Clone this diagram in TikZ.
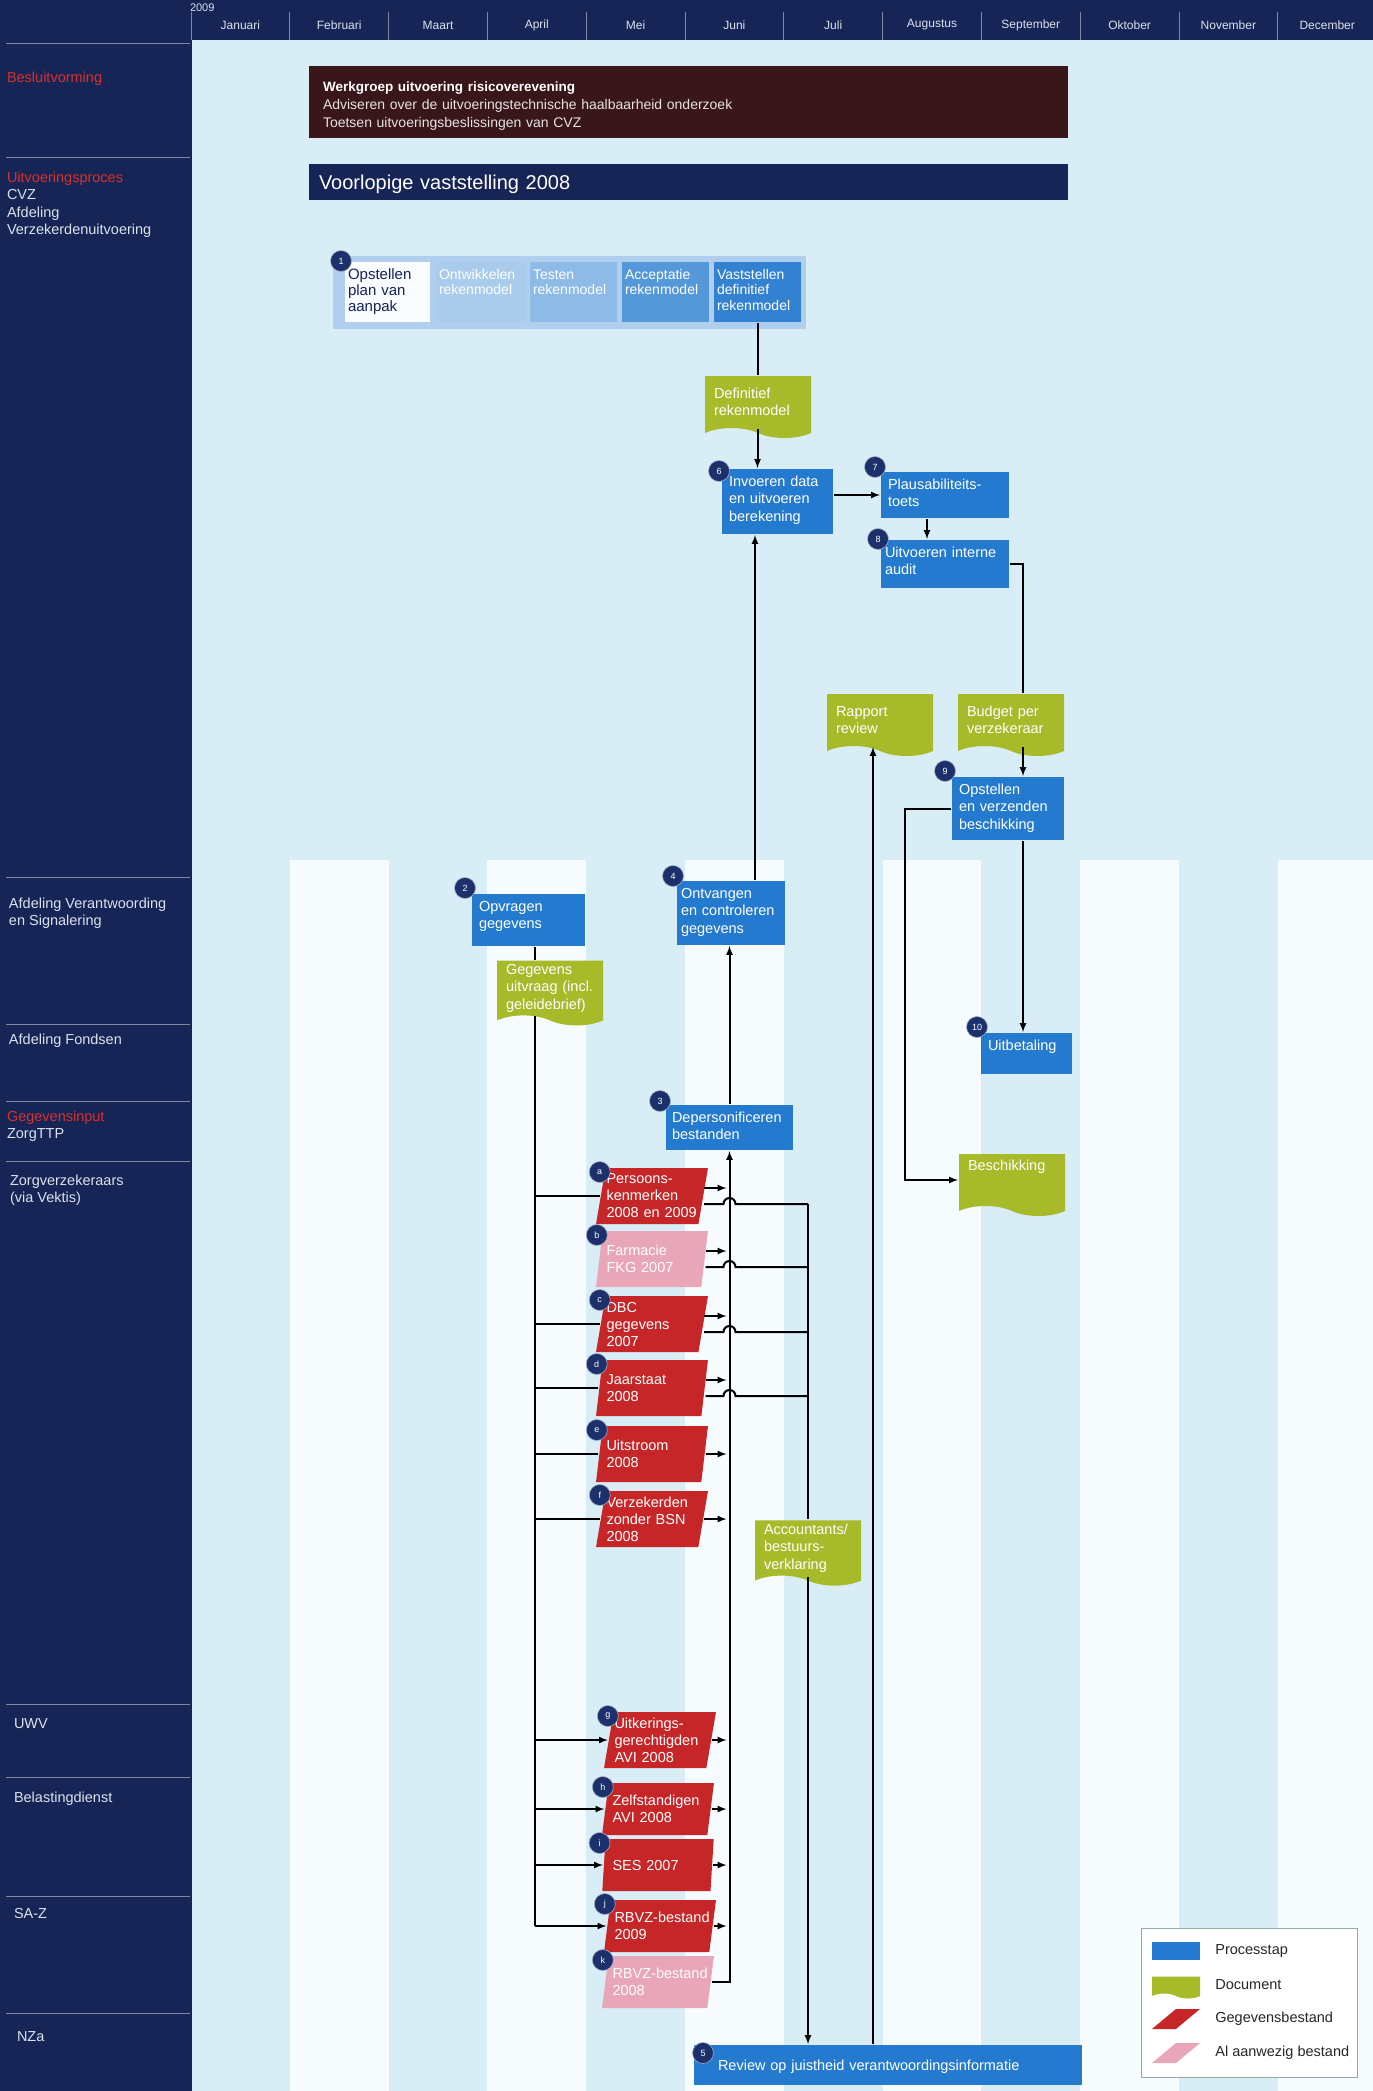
\documentclass[tikz,border=0pt]{standalone}
\usepackage{fontspec}
\setmainfont{Liberation Sans}
\usepackage{tikz}
\usetikzlibrary{shapes.geometric,shapes.symbols,calc}

\definecolor{navy}{RGB}{22,36,86}
\definecolor{maroon}{RGB}{56,22,26}
\definecolor{procblue}{RGB}{36,122,206}
\definecolor{docgreen}{RGB}{166,186,42}
\definecolor{datared}{RGB}{198,38,40}
\definecolor{datapink}{RGB}{233,166,184}
\definecolor{gridblue}{RGB}{216,237,245}
\definecolor{gridwhite}{RGB}{246,251,253}
\definecolor{badgeblue}{RGB}{28,48,108}
\definecolor{lanered}{RGB}{215,50,42}
\definecolor{lanetext}{RGB}{220,226,236}
\definecolor{planblue}{RGB}{176,207,238}

\tikzset{
  txt/.style={font=\fontsize{14.5}{17.5}\selectfont},
  stepbox/.style={rectangle, fill=procblue, text=white, anchor=north west, align=left,
    inner xsep=7pt, inner ysep=6pt, text height=11pt, txt},
  planbox/.style={rectangle, anchor=north west, align=left, inner xsep=3pt, inner ysep=5pt,
    text height=12pt, text depth=38pt, text=white, font=\fontsize{14}{15.5}\selectfont},
  docbox/.style={tape, tape bend top=none, tape bend bottom=out and in, tape bend height=10pt,
    fill=docgreen, text=white, align=left, text width=88pt, inner xsep=9pt, minimum height=62pt, txt},
  databox/.style={trapezium, trapezium left angle=79, trapezium right angle=101, trapezium stretches=true,
    fill=datared, text=white, align=left, text width=91pt, inner xsep=0pt, inner ysep=2pt,
    minimum width=112pt, minimum height=56pt, font=\fontsize{14.5}{17}\selectfont},
  oldbox/.style={databox, fill=datapink},
  badge/.style={circle, fill=badgeblue, draw=white!60!badgeblue, line width=0.6pt, text=white,
    minimum size=21pt, inner sep=0pt, font=\fontsize{9}{9}\selectfont},
  lane/.style={anchor=north west, align=left, inner sep=0pt, text=lanetext,
    font=\fontsize{14.5}{17.3}\selectfont},
  monthlbl/.style={text=lanetext, font=\fontsize{12}{12}\selectfont},
  legtext/.style={anchor=west, text=black!85, font=\fontsize{14.5}{17}\selectfont},
  lanesep/.style={draw=white!45!navy, line width=1pt},
}

\begin{document}
\begin{tikzpicture}[x=1pt,y=-1pt,line width=2pt,>=latex]
\useasboundingbox (0,0) rectangle (1373,2091);

% grid
\fill[gridblue] (190,40) rectangle (1373,2091);
\foreach \i in {1,3,5,7,9,11}
  \fill[gridwhite] (191+98.8*\i,860) rectangle (191+98.8*\i+98.8,2091);
\fill[navy] (0,0) rectangle (1373,40);
\fill[navy] (0,0) rectangle (192,2091);
\foreach \i in {0,...,11}
  \draw[lanesep] (191+98.8*\i,12) -- (191+98.8*\i,40);
\foreach \m [count=\i from 0] in {Januari,Februari,Maart,April,Mei,Juni,Juli,Augustus,September,Oktober,November,December}
  \node[monthlbl] (m\i) at (240.4+98.8*\i,25) {\m};
\node[monthlbl, anchor=west, inner sep=0pt, font=\fontsize{11}{11}\selectfont] (jaar) at (189,8) {2009};
\foreach \y in {43,157,877,1024,1101,1161,1704,1777,1896,2013}
  \draw[lanesep] (6,\y) -- (190,\y);

\node[lane, text=lanered] (l1) at (6,71) {Besluitvorming};
\node[lane] (l2) at (6,171) {{\color{lanered}Uitvoeringsproces}\\CVZ\\Afdeling\\Verzekerdenuitvoering};
\node[lane] (l3) at (8,897) {Afdeling Verantwoording\\en Signalering};
\node[lane] (l4) at (8,1033) {Afdeling Fondsen};
\node[lane] (l5) at (6,1110) {{\color{lanered}Gegevensinput}\\ZorgTTP};
\node[lane] (l6) at (9,1174) {Zorgverzekeraars\\(via Vektis)};
\node[lane] (l7) at (13,1718) {UWV};
\node[lane] (l8) at (13,1791) {Belastingdienst};
\node[lane] (l9) at (13,1907) {SA-Z};
\node[lane] (l10) at (16,2030) {NZa};

\node[anchor=north west, fill=maroon, text=white!88!maroon, align=left, text width=731pt,
  inner xsep=14pt, inner ysep=0pt, minimum height=72pt, text height=18pt, font=\fontsize{14}{18}\selectfont]
  (besluit) at (308,65) {{\fontsize{13.5}{18}\selectfont\bfseries\color{white} Werkgroep uitvoering risicoverevening}\\
  Adviseren over de uitvoeringstechnische haalbaarheid onderzoek\\
  Toetsen uitvoeringsbeslissingen van CVZ};
\node[anchor=north west, fill=navy, text=white, align=left, text width=739pt, inner xsep=10pt,
  inner ysep=0pt, minimum height=36pt, text height=20pt, font=\fontsize{20}{22}\selectfont]
  (voorlopig) at (308,163) {Voorlopige vaststelling 2008};

% stap 1
\node[anchor=north west, fill=planblue, minimum width=473pt, minimum height=73pt, inner sep=0pt] (plan) at (332,255) {};
\node[planbox, fill=white!92!planblue, text=navy, text width=79pt, font=\fontsize{15}{16}\selectfont] (s1) at (344,261) {Opstellen\\plan van\\aanpak};
\node[planbox, fill=planblue!95!procblue, text width=84pt] (s2) at (435,261) {Ontwikkelen\\rekenmodel};
\node[planbox, fill=planblue!75!procblue, text width=81pt] (s3) at (529,261) {Testen\\rekenmodel};
\node[planbox, fill=planblue!35!procblue, text width=81pt] (s4) at (621,261) {Acceptatie\\rekenmodel};
\node[planbox, fill=planblue!10!procblue, text width=81pt] (s5) at (713,261) {Vaststellen\\definitief\\rekenmodel};

\node[docbox] (defmodel) at (758,402) {Definitief\\rekenmodel};
\node[stepbox, text width=97pt, text depth=42pt] (n6) at (721,468) {Invoeren data\\en uitvoeren\\berekening};
\node[stepbox, text width=114pt, text depth=23pt] (n7) at (880,471) {Plausabiliteits-\\toets};
\node[stepbox, text width=120pt, inner xsep=4pt, text depth=25pt] (n8) at (880,539) {Uitvoeren interne\\audit};
\node[docbox] (rapport) at (880,720) {Rapport\\review};
\node[docbox] (budget) at (1011,720) {Budget per\\verzekeraar};
\node[stepbox, text width=98pt, text depth=40pt] (n9) at (951,776) {Opstellen\\en verzenden\\beschikking};

\node[stepbox, text width=99pt, text depth=29pt] (n2) at (471,893) {Opvragen\\gegevens};
\node[stepbox, text width=100pt, inner xsep=4pt, text depth=41pt] (n4) at (676,880) {Ontvangen\\\mbox{en controleren}\\gegevens};
\node[docbox] (uitvraag) at (550,988) {Gegevens\\\mbox{uitvraag (incl.}\\geleidebrief)};
\node[stepbox, text width=77pt, text depth=18pt] (n10) at (980,1032) {Uitbetaling};
\node[stepbox, text width=115pt, inner xsep=6pt, text depth=22pt] (n3) at (665,1104) {Depersonificeren\\bestanden};
\node[docbox, text depth=30pt] (besch) at (1012,1180) {Beschikking};

% gegevensbestanden
\node[databox] (fa) at (652,1196) {Persoons-\\kenmerken\\\mbox{2008 en 2009}};
\node[oldbox] (fb) at (652,1259) {Farmacie\\FKG 2007};
\node[databox] (fc) at (652,1324) {DBC\\gegevens\\2007};
\node[databox] (fd) at (652,1388) {Jaarstaat\\2008};
\node[databox] (fe) at (652,1454) {Uitstroom\\2008};
\node[databox] (ff) at (652,1519) {Verzekerden\\\mbox{zonder BSN}\\2008};
\node[docbox] (acc) at (808,1548) {Accountants/\\bestuurs-\\verklaring};
\node[databox] (fg) at (660,1740) {Uitkerings-\\gerechtigden\\AVI 2008};
\node[databox, minimum height=52pt] (fh) at (658,1809) {Zelfstandigen\\AVI 2008};
\node[databox, minimum height=52pt] (fi) at (658,1865) {SES 2007};
\node[databox, minimum height=52pt] (fj) at (660,1926) {\mbox{RBVZ-bestand}\\2009};
\node[oldbox, minimum height=52pt] (fk) at (658,1982) {\mbox{RBVZ-bestand}\\2008};

\node[stepbox, text width=340pt, inner xsep=24pt, inner ysep=8pt, text height=17pt, text depth=7pt] (n5) at (693,2044) {Review op juistheid verantwoordingsinformatie};

% nummers
\node[badge] (b1) at ($(s1.north west)+(-3,0)$) {1};
\node[badge] (b2) at ($(n2.north west)+(-6,-5)$) {2};
\node[badge] (b3) at ($(n3.north west)+(-5,-3)$) {3};
\node[badge] (b4) at ($(n4.north west)+(-3,-4)$) {4};
\node[badge] (b5) at ($(n5.north west)+(10,9)$) {5};
\node[badge] (b6) at ($(n6.north west)+(-2,3)$) {6};
\node[badge] (b7) at ($(n7.north west)+(-5,-4)$) {7};
\node[badge] (b8) at ($(n8.north west)+(-2,0)$) {8};
\node[badge] (b9) at ($(n9.north west)+(-6,-5)$) {9};
\node[badge] (b10) at ($(n10.north west)+(-3,-5)$) {10};
\foreach \f/\l in {fa/a,fb/b,fc/c,fd/d,fe/e,ff/f,fg/g,fh/h,fi/i,fj/j,fk/k}
  \node[badge] (b\l) at ($(\f.top left corner)+(-5,5)$) {\l};

% verbindingen
\draw (s5.south) -- (s5.south |- defmodel.north);
\draw[->] (s5.south |- defmodel.south) -- (s5.south |- n6.north);
\draw[->] (n6.east |- n7.west) -- (n7.west);
\coordinate (c78) at (927,0);
\draw[->] (c78 |- n7.south) -- (c78 |- n8.north);
\coordinate (c9) at (1023,0);
\draw (n8.east) -| (c9 |- budget.north);
\draw[->] (c9 |- budget.south) -- (c9 |- n9.north);
\draw[->] (c9 |- n9.south) -- (c9 |- n10.north);
\coordinate (c9w) at (905,0);
\draw[->] (n9.west) -| (c9w |- besch.west) -- (besch.west);
\coordinate (c46) at (755,0);
\draw[->] (c46 |- n4.north) -- (c46 |- n6.south);
\draw[->] (n3.north) -- (n3.north |- n4.south);

\coordinate (trunk) at (535,0);
\draw (trunk |- n2.south) -- (trunk |- uitvraag.north);
\draw (trunk |- uitvraag.south) -- (trunk |- fj.west);
\foreach \f in {fa,fc,fd,fe,ff}
  \draw (trunk |- \f.west) -- (\f.west);
\foreach \f in {fg,fh,fi,fj}
  \draw[->] (trunk |- \f.west) -- (\f.west);

\foreach \f in {fa,fb,fc,fd}{
  \draw[->] ($(\f.east)+(0,-8)$) -- ($(\f.east -| n3.south)+(-3,-8)$);
  \draw ($(\f.east)+(0,8)$) -- ($(\f.east -| n3.south)+(-6,8)$) arc[start angle=180,end angle=0,radius=6pt]
    -- ($(\f.east -| acc.north)+(0,8)$);
}
\foreach \f in {fe,ff,fg,fh,fi,fj}
  \draw[->] (\f.east) -- ($(\f.east -| n3.south)+(-3,0)$);
\draw[->] (fk.east) -| (n3.south);
\draw ($(fa.east -| acc.north)+(0,8)$) -- (acc.north);
\draw[->] (acc.south) -- (acc.south |- n5.north);
\coordinate (crev) at (873,0);
\draw[->] (crev |- n5.north) -- (crev |- rapport.south);

% legenda
\node[anchor=north west, fill=white, draw=black!30!gridblue, line width=1pt, minimum width=216pt,
  minimum height=149pt, inner sep=0pt] (legenda) at (1141,1928) {};
\node[rectangle, fill=procblue, minimum width=48pt, minimum height=18pt, inner sep=0pt] (lp) at (1176,1951) {};
\node[tape, tape bend top=none, tape bend bottom=out and in, tape bend height=5pt, fill=docgreen,
  minimum width=48pt, minimum height=22pt, inner sep=0pt] (ld) at (1176,1985) {};
\node[databox, minimum width=48pt, minimum height=20pt, text width=0pt] (lg) at (1176,2019) {};
\node[oldbox, minimum width=48pt, minimum height=20pt, text width=0pt] (la) at (1176,2053) {};
\node[legtext] (tp) at (1211,1951) {Processtap};
\node[legtext] (td) at (1211,1985) {Document};
\node[legtext] (tg) at (1211,2019) {Gegevensbestand};
\node[legtext] (ta) at (1211,2053) {Al aanwezig bestand};

\end{tikzpicture}
\end{document}
